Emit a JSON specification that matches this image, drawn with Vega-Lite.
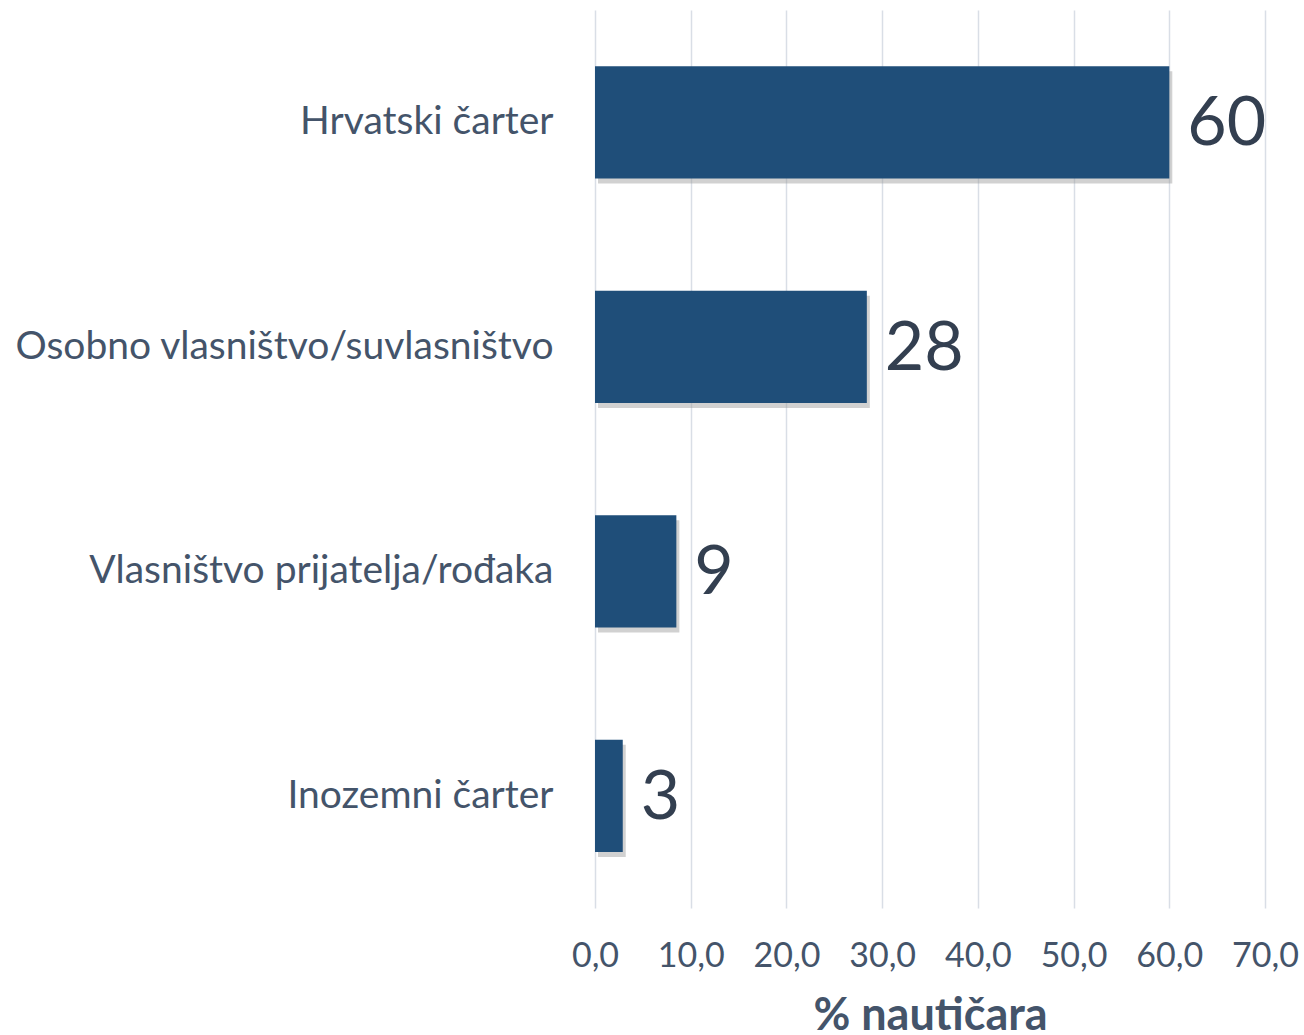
{
  "$schema": "https://vega.github.io/schema/vega-lite/v6.json",
  "width": 670,
  "height": 898,
  "autosize": "none",
  "padding": {"left": 595, "top": 10, "right": 39, "bottom": 127},
  "background": "white",
  "config": {"view": {"stroke": null}, "font": "Lato"},
  "data": {"values": [
    {"category": "Hrvatski čarter", "value": 60.0, "label": "60"},
    {"category": "Osobno vlasništvo/suvlasništvo", "value": 28.4, "label": "28"},
    {"category": "Vlasništvo prijatelja/rođaka", "value": 8.5, "label": "9"},
    {"category": "Inozemni čarter", "value": 2.9, "label": "3"}
  ]},
  "encoding": {
    "y": {"field": "category", "type": "nominal", "sort": null,
      "scale": {"paddingInner": 0.5, "paddingOuter": 0.25},
      "axis": {"title": null, "domain": false, "ticks": false, "grid": false,
        "labelFontSize": 39, "labelColor": "#44546A", "labelPadding": 42, "labelLimit": 700, "labelFont": "Lato"}},
    "x": {"field": "value", "type": "quantitative",
      "scale": {"domain": [0, 70], "nice": false},
      "axis": {"values": [0, 10, 20, 30, 40, 50, 60, 70], "title": "% nautičara",
        "labelExpr": "replace(format(datum.value, '.1f'), '.', ',')",
        "labelFlush": false, "labelBound": false, "labelOverlap": false,
        "domain": false, "ticks": false, "grid": true, "gridColor": "#D9DEE6", "gridWidth": 1.5,
        "labelFontSize": 34, "labelColor": "#44546A", "labelPadding": 31,
        "titleFontSize": 45, "titleFontWeight": "bold", "titleColor": "#44546A", "titlePadding": 20}}
  },
  "layer": [
    {"mark": {"type": "bar", "color": "#9a9a9a", "opacity": 0.45, "xOffset": 3, "yOffset": 5}},
    {"mark": {"type": "bar", "color": "#1F4E79"}},
    {"mark": {"type": "text", "align": "left", "baseline": "middle", "dx": 18, "dy": 3, "fontSize": 68, "color": "#333F50"},
      "encoding": {"text": {"field": "label"}}}
  ]
}
